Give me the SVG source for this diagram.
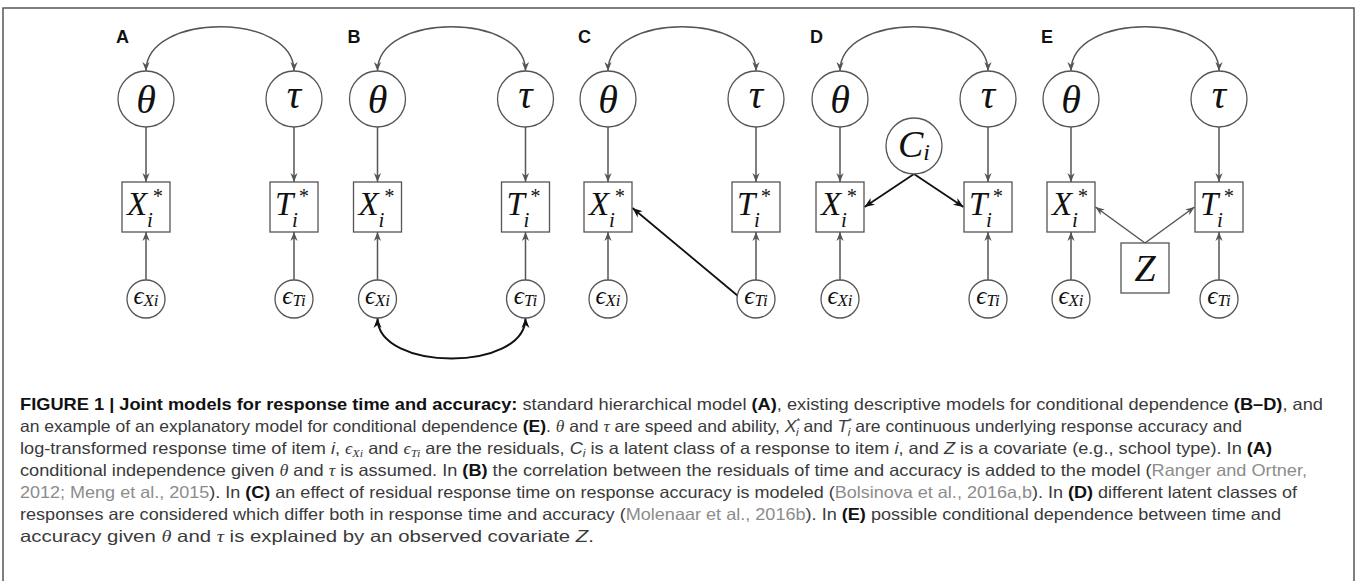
<svg xmlns="http://www.w3.org/2000/svg" width="1358" height="581" viewBox="0 0 1358 581">
<defs>
<marker id="ag" viewBox="0 0 10 10" refX="10" refY="5" markerWidth="9" markerHeight="9" markerUnits="userSpaceOnUse" orient="auto-start-reverse"><path d="M0,1 L10,5 L0,9 L3,5 z" fill="#555"/></marker>
<marker id="ab" viewBox="0 0 10 10" refX="10" refY="5" markerWidth="10" markerHeight="10" markerUnits="userSpaceOnUse" orient="auto-start-reverse"><path d="M0,1 L10,5 L0,9 L3,5 z" fill="#111"/></marker>
<style>
.nd{fill:#fff;stroke:#555;stroke-width:1.3}
.gl{fill:none;stroke:#555;stroke-width:1.5;marker-end:url(#ag)}
.gl2{fill:none;stroke:#555;stroke-width:1.5;marker-start:url(#ag);marker-end:url(#ag)}
.bl{fill:none;stroke:#111;stroke-width:1.8;marker-end:url(#ab)}
.bl2{fill:none;stroke:#111;stroke-width:2;marker-start:url(#ab);marker-end:url(#ab)}
.m{font-family:"Liberation Serif","DejaVu Serif",serif;font-style:italic;fill:#111}
.lab{font-family:"Liberation Sans",Arial,sans-serif;font-weight:bold;font-size:18px;fill:#111}
.cap{font-family:"Liberation Sans",Arial,sans-serif;font-size:16.5px;fill:#3a3a3a}
.b{font-weight:bold;fill:#111}
.g{fill:#8c8c8c}
.i{font-style:italic}
.cm{font-family:"Liberation Serif","DejaVu Serif",serif;font-style:italic}
</style>
</defs>
<rect x="3" y="8" width="1351" height="640" fill="none" stroke="#555" stroke-width="1.5"/>

<g id="connectors">
 <g id="conn-A">
  <path class="gl2" d="M146,71 C146,12 294,12 294,71"/>
  <path class="gl" d="M146,127 L146,182"/><path class="gl" d="M294,127 L294,182"/>
  <path class="gl" d="M146,280 L146,232"/><path class="gl" d="M294,280 L294,232"/>
 </g>
 <g id="conn-B" transform="translate(231.5,0)">
  <path class="gl2" d="M146,71 C146,12 294,12 294,71"/>
  <path class="gl" d="M146,127 L146,182"/><path class="gl" d="M294,127 L294,182"/>
  <path class="gl" d="M146,280 L146,232"/><path class="gl" d="M294,280 L294,232"/>
  <path class="bl2" d="M146,318 C146,372 294,372 294,318"/>
 </g>
 <g id="conn-C" transform="translate(462,0)">
  <path class="gl2" d="M146,71 C146,12 294,12 294,71"/>
  <path class="gl" d="M146,127 L146,182"/><path class="gl" d="M294,127 L294,182"/>
  <path class="gl" d="M146,280 L146,232"/><path class="gl" d="M294,280 L294,232"/>
  <path class="bl" d="M276,296 L170.5,208"/>
 </g>
 <g id="conn-D" transform="translate(694,0)">
  <path class="gl2" d="M146,71 C146,12 294,12 294,71"/>
  <path class="gl" d="M146,127 L146,182"/><path class="gl" d="M294,127 L294,182"/>
  <path class="gl" d="M146,280 L146,232"/><path class="gl" d="M294,280 L294,232"/>
  <path class="bl" d="M220,174 L170.5,207"/><path class="bl" d="M220,174 L269.5,207"/>
 </g>
 <g id="conn-E" transform="translate(925,0)">
  <path class="gl2" d="M146,71 C146,12 294,12 294,71"/>
  <path class="gl" d="M146,127 L146,182"/><path class="gl" d="M294,127 L294,182"/>
  <path class="gl" d="M146,280 L146,232"/><path class="gl" d="M294,280 L294,232"/>
  <path class="gl" d="M220,243 L170.5,207"/><path class="gl" d="M220,243 L269.5,207"/>
 </g>
</g>

<g id="panel-A">
 <text class="lab" x="116" y="43">A</text>
 <g id="A-theta"><circle class="nd" cx="146" cy="99" r="28"/><text class="m" x="146" y="113" font-size="40" text-anchor="middle">θ</text></g>
 <g id="A-tau"><circle class="nd" cx="294" cy="99" r="28"/><text class="m" x="294" y="108" font-size="40" text-anchor="middle">τ</text></g>
 <g id="A-X"><rect class="nd" x="122" y="182" width="48" height="50"/><text class="m" x="127" y="215" font-size="33">X<tspan x="152" y="203" font-size="20">*</tspan><tspan x="147" y="227" font-size="21">i</tspan></text></g>
 <g id="A-T"><rect class="nd" x="270" y="182" width="48" height="50"/><text class="m" x="275" y="215" font-size="33">T<tspan x="298" y="203" font-size="20">*</tspan><tspan x="292" y="227" font-size="21">i</tspan></text></g>
 <g id="A-eX"><circle class="nd" cx="146" cy="299" r="19"/><text class="m" x="146" y="304" font-size="25" text-anchor="middle">ϵ<tspan font-size="17" dy="2">Xi</tspan></text></g>
 <g id="A-eT"><circle class="nd" cx="294" cy="299" r="19"/><text class="m" x="294" y="304" font-size="25" text-anchor="middle">ϵ<tspan font-size="17" dy="2">Ti</tspan></text></g>
</g>

<g id="panel-B" transform="translate(231.5,0)">
 <text class="lab" x="116" y="43">B</text>
 <g id="B-theta"><circle class="nd" cx="146" cy="99" r="28"/><text class="m" x="146" y="113" font-size="40" text-anchor="middle">θ</text></g>
 <g id="B-tau"><circle class="nd" cx="294" cy="99" r="28"/><text class="m" x="294" y="108" font-size="40" text-anchor="middle">τ</text></g>
 <g id="B-X"><rect class="nd" x="122" y="182" width="48" height="50"/><text class="m" x="127" y="215" font-size="33">X<tspan x="152" y="203" font-size="20">*</tspan><tspan x="147" y="227" font-size="21">i</tspan></text></g>
 <g id="B-T"><rect class="nd" x="270" y="182" width="48" height="50"/><text class="m" x="275" y="215" font-size="33">T<tspan x="298" y="203" font-size="20">*</tspan><tspan x="292" y="227" font-size="21">i</tspan></text></g>
 <g id="B-eX"><circle class="nd" cx="146" cy="299" r="19"/><text class="m" x="146" y="304" font-size="25" text-anchor="middle">ϵ<tspan font-size="17" dy="2">Xi</tspan></text></g>
 <g id="B-eT"><circle class="nd" cx="294" cy="299" r="19"/><text class="m" x="294" y="304" font-size="25" text-anchor="middle">ϵ<tspan font-size="17" dy="2">Ti</tspan></text></g>
</g>

<g id="panel-C" transform="translate(462,0)">
 <text class="lab" x="116" y="43">C</text>
 <g id="C-theta"><circle class="nd" cx="146" cy="99" r="28"/><text class="m" x="146" y="113" font-size="40" text-anchor="middle">θ</text></g>
 <g id="C-tau"><circle class="nd" cx="294" cy="99" r="28"/><text class="m" x="294" y="108" font-size="40" text-anchor="middle">τ</text></g>
 <g id="C-X"><rect class="nd" x="122" y="182" width="48" height="50"/><text class="m" x="127" y="215" font-size="33">X<tspan x="152" y="203" font-size="20">*</tspan><tspan x="147" y="227" font-size="21">i</tspan></text></g>
 <g id="C-T"><rect class="nd" x="270" y="182" width="48" height="50"/><text class="m" x="275" y="215" font-size="33">T<tspan x="298" y="203" font-size="20">*</tspan><tspan x="292" y="227" font-size="21">i</tspan></text></g>
 <g id="C-eX"><circle class="nd" cx="146" cy="299" r="19"/><text class="m" x="146" y="304" font-size="25" text-anchor="middle">ϵ<tspan font-size="17" dy="2">Xi</tspan></text></g>
 <g id="C-eT"><circle class="nd" cx="294" cy="299" r="19"/><text class="m" x="294" y="304" font-size="25" text-anchor="middle">ϵ<tspan font-size="17" dy="2">Ti</tspan></text></g>
</g>

<g id="panel-D" transform="translate(694,0)">
 <text class="lab" x="116" y="43">D</text>
 <g id="D-theta"><circle class="nd" cx="146" cy="99" r="28"/><text class="m" x="146" y="113" font-size="40" text-anchor="middle">θ</text></g>
 <g id="D-tau"><circle class="nd" cx="294" cy="99" r="28"/><text class="m" x="294" y="108" font-size="40" text-anchor="middle">τ</text></g>
 <g id="D-C"><circle class="nd" cx="220" cy="146" r="28"/><text class="m" x="220" y="157" font-size="38" text-anchor="middle">C<tspan font-size="24" dy="3">i</tspan></text></g>
 <g id="D-X"><rect class="nd" x="122" y="182" width="48" height="50"/><text class="m" x="127" y="215" font-size="33">X<tspan x="152" y="203" font-size="20">*</tspan><tspan x="147" y="227" font-size="21">i</tspan></text></g>
 <g id="D-T"><rect class="nd" x="270" y="182" width="48" height="50"/><text class="m" x="275" y="215" font-size="33">T<tspan x="298" y="203" font-size="20">*</tspan><tspan x="292" y="227" font-size="21">i</tspan></text></g>
 <g id="D-eX"><circle class="nd" cx="146" cy="299" r="19"/><text class="m" x="146" y="304" font-size="25" text-anchor="middle">ϵ<tspan font-size="17" dy="2">Xi</tspan></text></g>
 <g id="D-eT"><circle class="nd" cx="294" cy="299" r="19"/><text class="m" x="294" y="304" font-size="25" text-anchor="middle">ϵ<tspan font-size="17" dy="2">Ti</tspan></text></g>
</g>

<g id="panel-E" transform="translate(925,0)">
 <text class="lab" x="116" y="43">E</text>
 <g id="E-theta"><circle class="nd" cx="146" cy="99" r="28"/><text class="m" x="146" y="113" font-size="40" text-anchor="middle">θ</text></g>
 <g id="E-tau"><circle class="nd" cx="294" cy="99" r="28"/><text class="m" x="294" y="108" font-size="40" text-anchor="middle">τ</text></g>
 <g id="E-X"><rect class="nd" x="122" y="182" width="48" height="50"/><text class="m" x="127" y="215" font-size="33">X<tspan x="152" y="203" font-size="20">*</tspan><tspan x="147" y="227" font-size="21">i</tspan></text></g>
 <g id="E-T"><rect class="nd" x="270" y="182" width="48" height="50"/><text class="m" x="275" y="215" font-size="33">T<tspan x="298" y="203" font-size="20">*</tspan><tspan x="292" y="227" font-size="21">i</tspan></text></g>
 <g id="E-Z"><rect class="nd" x="196" y="243" width="48" height="50"/><text class="m" x="220" y="281" font-size="38" text-anchor="middle">Z</text></g>
 <g id="E-eX"><circle class="nd" cx="146" cy="299" r="19"/><text class="m" x="146" y="304" font-size="25" text-anchor="middle">ϵ<tspan font-size="17" dy="2">Xi</tspan></text></g>
 <g id="E-eT"><circle class="nd" cx="294" cy="299" r="19"/><text class="m" x="294" y="304" font-size="25" text-anchor="middle">ϵ<tspan font-size="17" dy="2">Ti</tspan></text></g>
</g>

<g id="caption" class="cap">
 <text x="20" y="410" textLength="1303" lengthAdjust="spacingAndGlyphs"><tspan class="b">FIGURE 1 | Joint models for response time and accuracy:</tspan> standard hierarchical model <tspan class="b">(A)</tspan>, existing descriptive models for conditional dependence <tspan class="b">(B–D)</tspan>, and</text>
 <text x="20" y="432" textLength="1222" lengthAdjust="spacingAndGlyphs">an example of an explanatory model for conditional dependence <tspan class="b">(E)</tspan>. <tspan class="cm">θ</tspan> and <tspan class="cm">τ</tspan> are speed and ability, <tspan class="i">X</tspan><tspan font-size="9" dy="-8">*</tspan><tspan class="i" font-size="11" dx="-4" dy="12">i</tspan><tspan dy="-4"> and </tspan><tspan class="i">T</tspan><tspan font-size="9" dy="-8">*</tspan><tspan class="i" font-size="11" dx="-4" dy="12">i</tspan><tspan dy="-4"> are continuous underlying response accuracy and</tspan></text>
 <text x="20" y="454" textLength="1252" lengthAdjust="spacingAndGlyphs">log-transformed response time of item <tspan class="i">i</tspan>, <tspan class="cm">ϵ</tspan><tspan class="cm" font-size="11" dy="3">Xi</tspan><tspan dy="-3"> and </tspan><tspan class="cm">ϵ</tspan><tspan class="cm" font-size="11" dy="3">Ti</tspan><tspan dy="-3"> are the residuals, </tspan><tspan class="i">C</tspan><tspan class="i" font-size="11" dy="3">i</tspan><tspan dy="-3"> is a latent class of a response to item </tspan><tspan class="i">i</tspan>, and <tspan class="i">Z</tspan> is a covariate (e.g., school type). In <tspan class="b">(A)</tspan></text>
 <text x="20" y="476" textLength="1287" lengthAdjust="spacingAndGlyphs">conditional independence given <tspan class="cm">θ</tspan> and <tspan class="cm">τ</tspan> is assumed. In <tspan class="b">(B)</tspan> the correlation between the residuals of time and accuracy is added to the model (<tspan class="g">Ranger and Ortner,</tspan></text>
 <text x="20" y="498" textLength="1277" lengthAdjust="spacingAndGlyphs"><tspan class="g">2012; Meng et al., 2015</tspan>). In <tspan class="b">(C)</tspan> an effect of residual response time on response accuracy is modeled (<tspan class="g">Bolsinova et al., 2016a,b</tspan>). In <tspan class="b">(D)</tspan> different latent classes of</text>
 <text x="20" y="520" textLength="1261" lengthAdjust="spacingAndGlyphs">responses are considered which differ both in response time and accuracy (<tspan class="g">Molenaar et al., 2016b</tspan>). In <tspan class="b">(E)</tspan> possible conditional dependence between time and</text>
 <text x="20" y="542" textLength="574" lengthAdjust="spacingAndGlyphs">accuracy given <tspan class="cm">θ</tspan> and <tspan class="cm">τ</tspan> is explained by an observed covariate <tspan class="i">Z</tspan>.</text>
</g>
</svg>
